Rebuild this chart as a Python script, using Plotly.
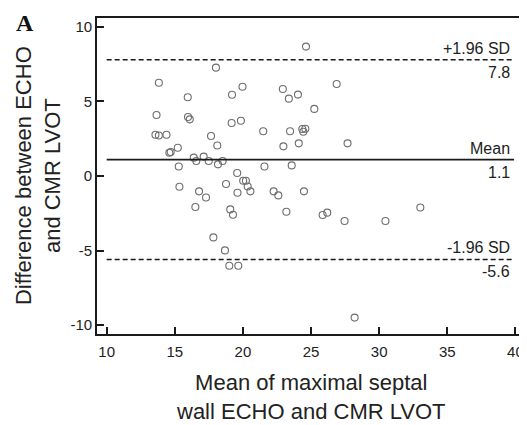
import plotly.graph_objects as go

# Data (Bland-Altman plot)
mean_x = [13.83, 18.02, 15.95, 19.20, 19.97, 13.66, 15.97, 16.10, 19.17, 19.85,
          13.58, 13.83, 14.39, 17.66, 18.12, 15.22, 14.60, 14.70, 16.39, 16.58,
          17.12, 17.49, 18.17, 18.51, 15.29, 24.63, 26.88, 22.93, 23.37, 24.04,
          25.24, 21.49, 23.46, 24.36, 24.58, 24.43, 22.97, 24.10, 27.68, 21.58,
          23.58, 15.34, 16.78, 17.29, 16.51, 19.58, 18.76, 20.02, 20.22, 20.35,
          20.55, 19.60, 19.07, 19.27, 17.83, 18.68, 19.00, 19.66, 22.25, 22.60,
          24.48, 23.19, 25.85, 26.19, 27.46, 30.46, 33.02, 28.20]
diff_y = [6.26, 7.27, 5.28, 5.45, 5.99, 4.09, 3.96, 3.80, 3.56, 3.71,
          2.77, 2.72, 2.77, 2.68, 2.05, 1.90, 1.56, 1.61, 1.23, 1.01,
          1.30, 1.01, 0.78, 1.01, 0.64, 8.68, 6.17, 5.84, 5.19, 5.46,
          4.50, 3.00, 3.00, 3.15, 3.17, 2.97, 1.99, 2.19, 2.19, 0.64,
          0.71, -0.72, -1.03, -1.44, -2.08, 0.20, -0.54, -0.32, -0.32, -0.70,
          -1.03, -1.12, -2.24, -2.60, -4.12, -4.99, -6.02, -6.02, -1.03, -1.30,
          -1.03, -2.40, -2.62, -2.46, -3.02, -3.02, -2.11, -9.50]

mean_diff = 1.1
upper_loa = 7.8
lower_loa = -5.6
line_x = [10, 39.9]

x_ticks = [10, 15, 20, 25, 30, 35, 40]
y_ticks = [-10, -5, 0, 5, 10]
y_tick_text = ["-10", "-5", "0", "5", "10"]

FONT = "Liberation Sans, Arial, sans-serif"

fig = go.Figure()
fig.add_trace(go.Scatter(
    x=mean_x, y=diff_y, mode="markers",
    marker=dict(symbol="circle-open", size=7, color="#6e6e6e", line=dict(width=1.1, color="#6e6e6e")),
    showlegend=False, hoverinfo="x+y"))

for val, dash in [(upper_loa, "5px,3px"), (mean_diff, "solid"), (lower_loa, "5px,3px")]:
    fig.add_trace(go.Scatter(x=line_x, y=[val, val], mode="lines",
                             line=dict(color="#1a1a1a", width=1.6, dash=dash),
                             showlegend=False, hoverinfo="skip"))

labels = [(upper_loa, "+1.96 SD"), (mean_diff, "Mean"), (lower_loa, "-1.96 SD")]
for val, name in labels:
    fig.add_annotation(x=line_x[1], y=val, xref="x", yref="y", text=name, showarrow=False,
                       xanchor="right", yanchor="bottom", xshift=-2, yshift=1,
                       font=dict(family=FONT, size=16, color="#222"))
    fig.add_annotation(x=line_x[1], y=val, xref="x", yref="y", text=f"{val:.1f}", showarrow=False,
                       xanchor="right", yanchor="top", xshift=-2, yshift=-2,
                       font=dict(family=FONT, size=16, color="#222"))

fig.add_annotation(x=-0.138, y=0.5, xref="paper", yref="paper",
                   text="Difference between ECHO<br>and CMR LVOT", textangle=-90,
                   showarrow=False, xanchor="center", yanchor="middle",
                   font=dict(family=FONT, size=22, color="#222"))
fig.add_annotation(x=0.5, y=-0.198, xref="paper", yref="paper",
                   text="Mean of maximal septal<br>wall ECHO and CMR LVOT",
                   showarrow=False, xanchor="center", yanchor="middle",
                   font=dict(family=FONT, size=22, color="#222"))
fig.add_annotation(x=-0.192, y=1.03, xref="paper", yref="paper", text="<b>A</b>",
                   showarrow=False, xanchor="left", yanchor="top", borderpad=0,
                   font=dict(family="Liberation Serif, Times New Roman, serif", size=24, color="#111"))

axis_common = dict(showgrid=False, zeroline=False, showline=True, linecolor="#1a1a1a",
                   linewidth=1.6, mirror=True, ticks="inside", ticklen=7, tickwidth=1.6,
                   tickcolor="#1a1a1a", tickfont=dict(family=FONT, size=15, color="#222"))

fig.update_xaxes(range=[9.29, 40.63], tickvals=x_ticks, ticklabelstandoff=3, **axis_common)
fig.update_yaxes(range=[-10.6, 10.6], tickvals=y_ticks, ticktext=y_tick_text, **axis_common)

# page has an 8px body margin, so the figure is sized to fit the 527x425 window
fig.update_layout(width=519, height=417, plot_bgcolor="white", paper_bgcolor="white",
                  margin=dict(l=89, r=1, t=10, b=91))

fig.write_html("out.html")
